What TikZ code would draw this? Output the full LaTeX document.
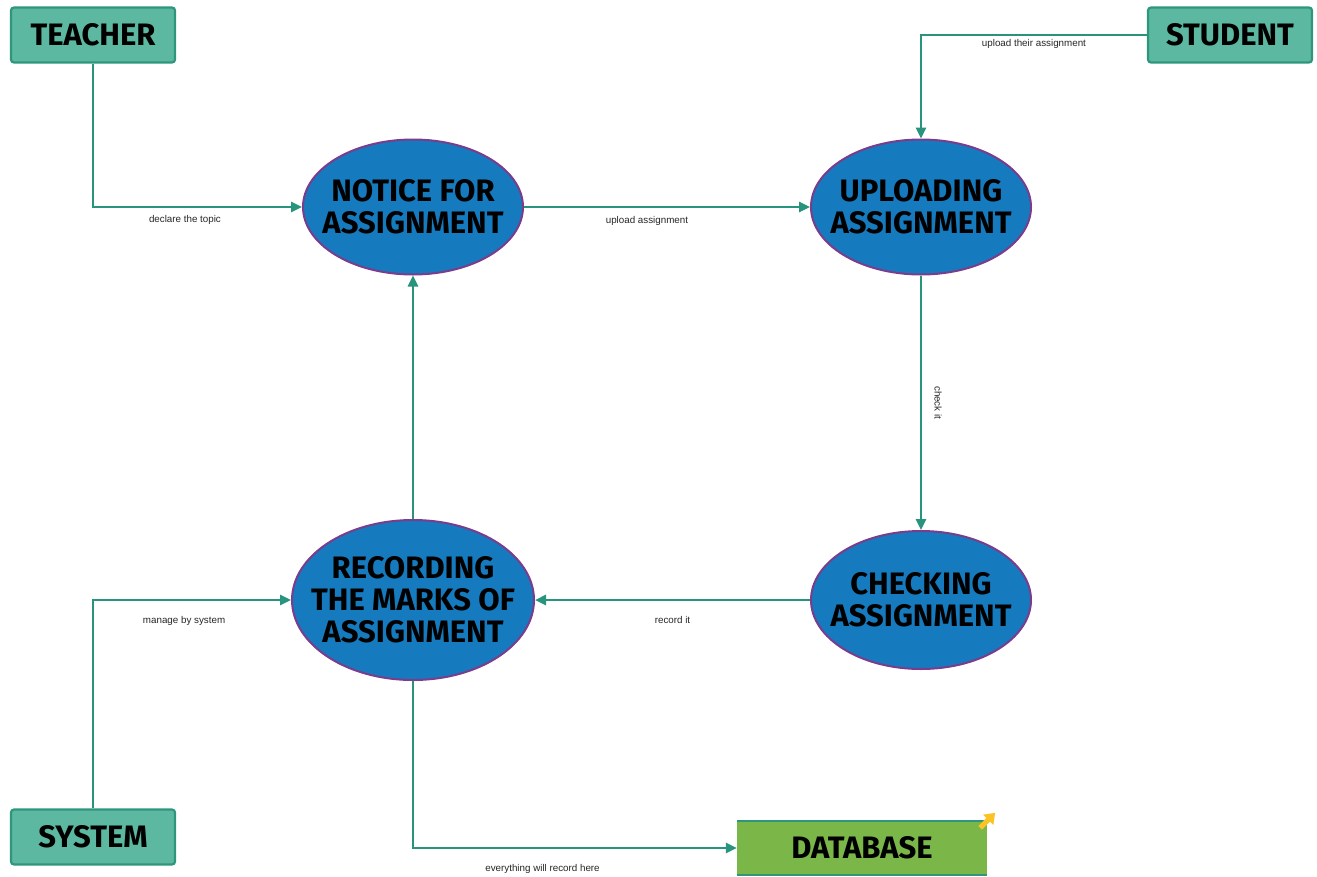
\documentclass[tikz,border=0pt]{standalone}
\usepackage{fontspec}
\setmainfont{Liberation Sans}
\newfontfamily\comicfont{Fira Sans}
\usetikzlibrary{shapes.geometric, arrows.meta, positioning}

\definecolor{boxteal}{RGB}{92,184,160}
\definecolor{boxedge}{RGB}{46,150,124}
\definecolor{flowteal}{RGB}{40,148,126}
\definecolor{procblue}{RGB}{22,122,190}
\definecolor{procedge}{RGB}{122,60,140}
\definecolor{dbgreen}{RGB}{122,182,72}
\definecolor{markyellow}{RGB}{250,196,36}

\begin{document}
\begin{tikzpicture}[x=1pt,y=-1pt,>={Triangle[width=10pt,length=11pt]},
        entity/.style={draw=boxedge,fill=boxteal,line width=2.2pt,rounded corners=3pt,
            minimum width=164pt,minimum height=55pt,inner sep=0pt,
            font=\comicfont\bfseries\fontsize{31}{32}\selectfont},
        process/.style={ellipse,draw=procedge,fill=procblue,line width=2pt,inner sep=-20pt,
            align=center,font=\comicfont\bfseries\fontsize{31}{32}\selectfont},
        flow/.style={->,draw=flowteal,line width=2.5pt},
        lbl/.style={font=\fontsize{9.8}{11}\selectfont,text=black!85,inner sep=1pt}]
        \useasboundingbox (0,0) rectangle (1317,876);

        % external entities
        \node[entity] (teacher) at (93,35) {TEACHER};
        \node[entity] (student) at (1230,35) {STUDENT};
        \node[entity] (system) at (93,837) {SYSTEM};

        % data store
        \node[fill=dbgreen,minimum width=250pt,minimum height=54pt,inner sep=0pt,
            font=\comicfont\bfseries\fontsize{31}{32}\selectfont] (db) at (862,848) {DATABASE};
        \draw[boxedge,line width=2pt] (db.north west) -- (db.north east);
        \draw[boxedge,line width=2pt] (db.south west) -- (db.south east);
        \draw[markyellow,line width=5pt,-{Triangle[width=14pt,length=10pt]}]
            ([shift={(-7,7)}]db.north east) -- ++(15,-15);

        % processes
        \node[process,minimum width=220pt,minimum height=135pt] (notice) at (413,207) {NOTICE FOR\\ASSIGNMENT};
        \node[process,minimum width=220pt,minimum height=135pt] (upload) at (921,207) {UPLOADING\\ASSIGNMENT};
        \node[process,minimum width=220pt,minimum height=138pt] (check) at (921,600) {CHECKING\\ASSIGNMENT};
        \node[process,minimum width=242pt,minimum height=160pt] (record) at (413,600) {RECORDING\\THE MARKS OF\\ASSIGNMENT};

        % flows
        \draw[flow] (teacher.south) |- (notice.west) node[lbl,pos=0.72,below=6pt] {declare the topic};
        \draw[flow] (student.west) -| (upload.north) node[lbl,pos=0.25,below=2pt] {upload their assignment};
        \draw[flow] (notice.east) -- (upload.west) node[lbl,pos=0.43,below=7pt] {upload assignment};
        \draw[flow] (upload.south) -- (check.north) node[lbl,midway,xshift=17pt,rotate=-90] {check it};
        \draw[flow] (check.west) -- (record.east) node[lbl,midway,below=14pt] {record it};
        \draw[flow] (record.north) -- (notice.south);
        \draw[flow] (system.north) |- (record.west) node[lbl,pos=0.73,below=14pt] {manage by system};
        \draw[flow] (record.south) |- (db.west) node[lbl,pos=0.7,below=14pt] {everything will record here};
    \end{tikzpicture}
\end{document}
